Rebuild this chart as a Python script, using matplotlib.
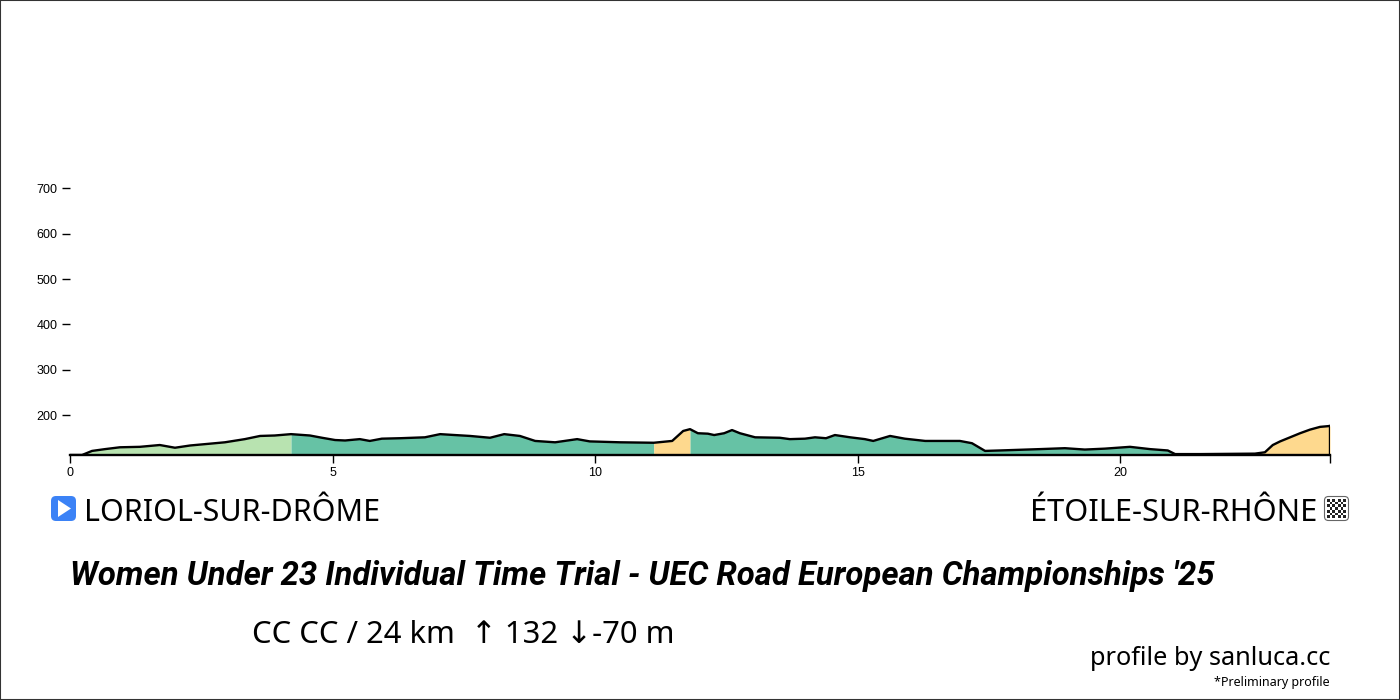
import matplotlib
matplotlib.use('Agg')
import matplotlib.pyplot as plt
from matplotlib.patches import FancyBboxPatch, Polygon, Rectangle
import numpy as np

km = [0, 0.23, 0.42, 0.67, 0.95, 1.33, 1.71, 2.0, 2.29, 2.67, 2.95, 3.33, 3.62, 3.9, 4.21,
      4.57, 4.8, 5.05, 5.24, 5.52, 5.71, 5.94, 6.29, 6.76, 7.05, 7.33, 7.62, 8.0, 8.27, 8.57,
      8.86, 9.24, 9.66, 9.9, 10.48, 11.12, 11.47, 11.68, 11.81, 11.96, 12.15, 12.27, 12.46,
      12.61, 12.76, 13.05, 13.52, 13.71, 14.0, 14.19, 14.4, 14.57, 14.86, 15.14, 15.3, 15.62,
      15.9, 16.29, 16.95, 17.18, 17.43, 17.71, 18.48, 18.95, 19.33, 19.71, 20.19, 20.57,
      20.91, 21.05, 21.52, 22.57, 22.76, 22.91, 23.05, 23.43, 23.62, 23.81, 24]
elevation = [112, 112, 121, 125, 129, 130, 134, 128, 133, 137, 140, 147, 154, 155, 158,
             155, 150, 145, 144, 147, 143, 148, 149, 151, 158, 156, 154, 150, 158, 154,
             143, 140, 147, 142, 140, 139, 143, 165, 169, 160, 159, 156, 160,
             167, 160, 151, 150, 147, 148, 151, 149, 156, 151, 147, 143, 154,
             148, 143, 143, 138, 121, 122, 125, 127, 124, 126, 130, 125,
             122, 114, 114, 115, 118, 134, 142, 160, 168, 174, 176]

seg_start = [0, 4.21, 11.12, 11.81, 22.57]
seg_end = [4.21, 11.12, 11.81, 22.57, 24]
seg_colors = ['#b8e3b0', '#66c2a5', '#fed98e', '#66c2a5', '#fed98e']

x_ticks = [0, 5, 10, 15, 20, 24]
x_labels = ['0', '5', '10', '15', '20', '']
y_ticks = [200, 300, 400, 500, 600, 700]

W, H = 1400, 700


def fx(px):
    return px / W


def fy(py):
    return 1 - py / H


fig = plt.figure(figsize=(14, 7), dpi=100)
ax = fig.add_axes([fx(70), fy(455), fx(1260), 312 / H])

km_arr = np.array(km)
el_arr = np.array(elevation)
for s, e, c in zip(seg_start, seg_end, seg_colors):
    m = (km_arr >= s) & (km_arr <= e)
    ax.fill_between(km_arr[m], el_arr[m], 112, color=c, lw=0)
ax.plot(km, elevation, color='black', lw=1.7, solid_joinstyle='round')
ax.plot([24, 24], [112, elevation[-1]], color='black', lw=1.7)

ax.set_xlim(0, 24)
ax.set_ylim(112, 800)
ax.set_xticks(x_ticks)
ax.set_xticklabels(x_labels)
ax.set_yticks(y_ticks)
for s in ['top', 'right', 'left']:
    ax.spines[s].set_visible(False)
ax.spines['bottom'].set_linewidth(1.7)
ax.tick_params(axis='both', length=6, width=1, labelsize=9, pad=3, labelfontfamily='Liberation Sans')

# rand de la imagen
fig.add_artist(Rectangle((0, 0), 1, 1, transform=fig.transFigure, fill=False,
                         ec='#333333', lw=1.5))

fig.text(fx(84), fy(521), 'LORIOL-SUR-DRÔME', fontsize=21.85, family='Noto Sans', color='black')
fig.text(fx(1317), fy(521), 'ÉTOILE-SUR-RHÔNE', fontsize=22.2, family='Noto Sans', color='black', ha='right')
fig.text(fx(70), fy(585), "Women Under 23 Individual Time Trial - UEC Road European Championships '25",
         fontsize=23.65, family='Roboto', weight='bold', style='italic', color='black')
fig.text(fx(252), fy(643), 'CC CC / 24 km  ↑ 132 ↓-70 m', fontsize=22.3,
         family=['Noto Sans', 'DejaVu Sans'], color='black')
fig.text(fx(1330), fy(665), 'profile by sanluca.cc', fontsize=18.2, family='Noto Sans', ha='right')
fig.text(fx(1330), fy(686), '*Preliminary profile', fontsize=9, family='Noto Sans', ha='right')

# icono de salida
overlay = fig.add_axes([0, 0, 1, 1])
overlay.set_xlim(0, W)
overlay.set_ylim(H, 0)
overlay.axis('off')
overlay.add_patch(FancyBboxPatch((54, 499), 19, 19, boxstyle='round,pad=3,rounding_size=5',
                                 fc='#3b82f6', ec='none'))
overlay.add_patch(Polygon([[58, 500], [58, 517], [71, 508.5]], fc='white', ec='none'))

# bandera de meta
overlay.add_patch(FancyBboxPatch((1326, 498), 21, 21, boxstyle='round,pad=1.5,rounding_size=4',
                                 fc='white', ec='#666666', lw=0.8))
n = 7
for i in range(n):
    for j in range(n):
        if (i + j) % 2 == 0:
            overlay.add_patch(Rectangle((1327 + i * 2.7, 499 + j * 2.7), 2.7, 2.7, fc='#222222', ec='none'))

fig.savefig('out.png', dpi=100)
